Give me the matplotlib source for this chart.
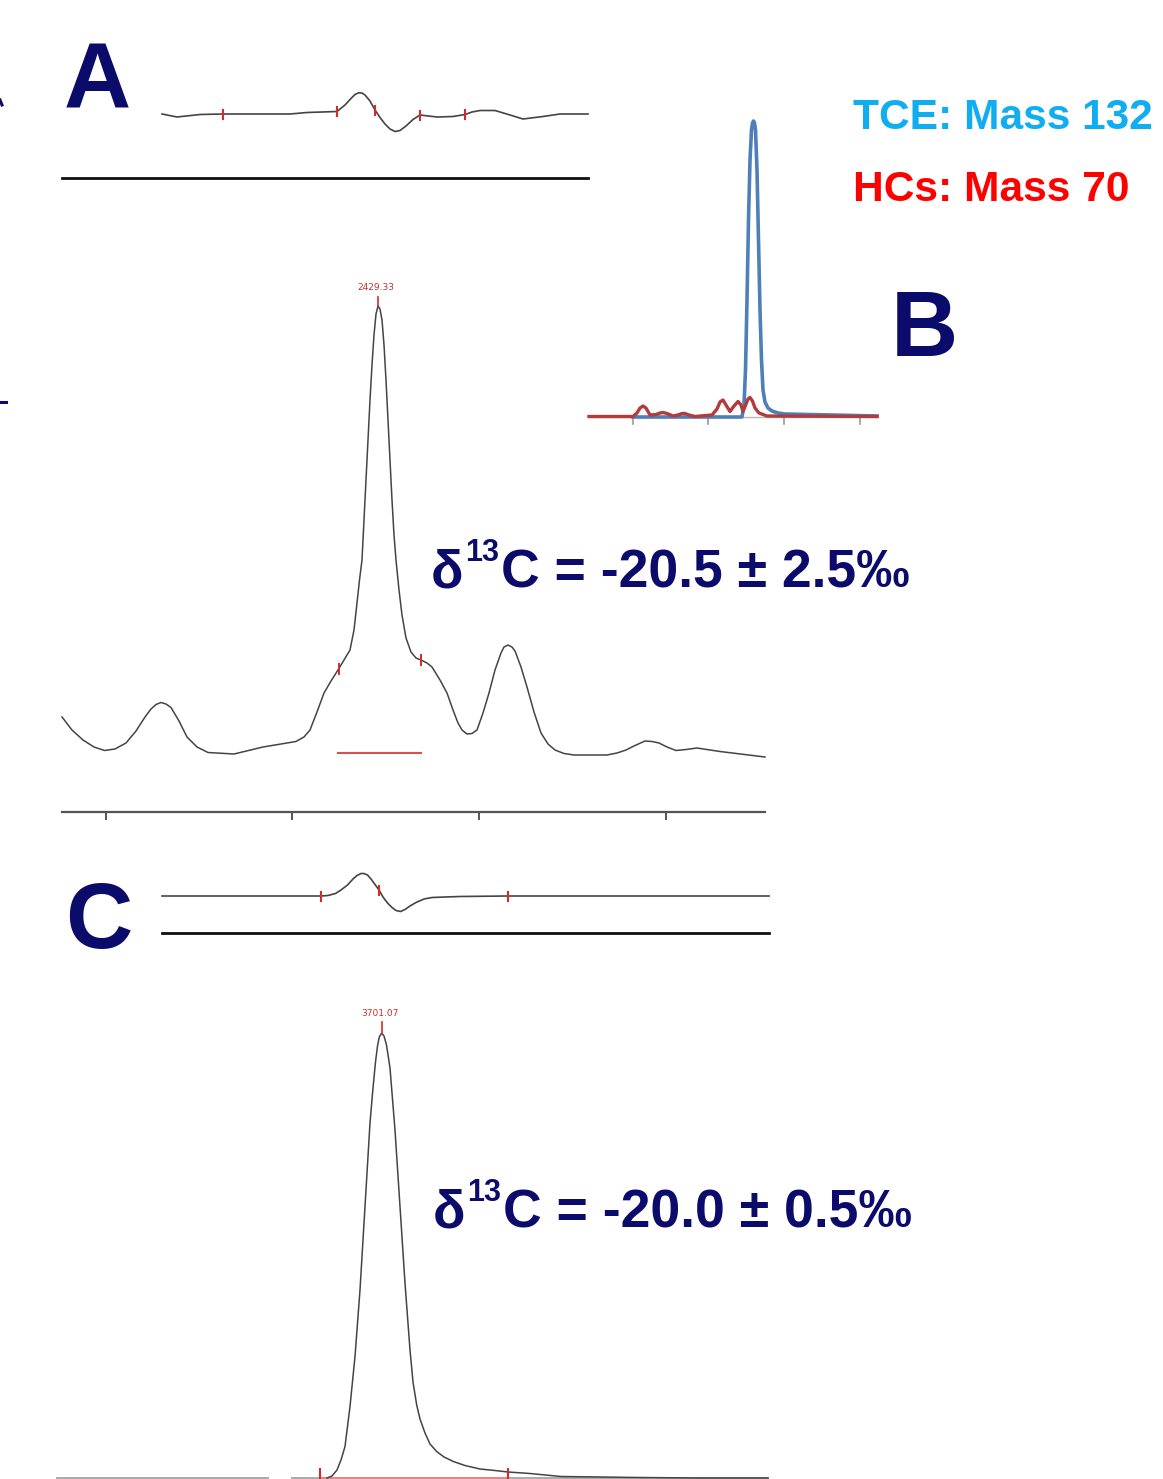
import matplotlib.pyplot as plt
import numpy as np

plt.rcParams['font.family'] = ['Liberation Sans', 'DejaVu Sans']

W, H = 1163, 1479
NAVY = '#0b0b6b'
TRACE = '#444444'
TICKRED = '#d42a2a'

# --- panel A: derivative trace (top) and its reference line
a_top_x = [162, 177, 200, 223, 290, 307, 337, 345, 351, 355, 358.5, 362, 365, 370, 375,
           380, 385, 390, 395, 400, 406, 413, 420, 437, 453, 465, 472, 480, 495, 510,
           523, 543, 560, 588]
a_top_y = [114, 117, 114.5, 114, 114, 112.5, 111.5, 105, 98.5, 94.5, 92.8, 93, 95, 101, 110,
           117.5, 124, 129, 131.5, 130.5, 126, 119.5, 115, 117, 116.5, 114.5, 112, 110.5,
           110.5, 115, 119, 116.5, 114, 114]
a_top_marks = [223, 337, 375, 420, 465]

# --- panel A: main chromatogram
a_x = [62, 72, 83, 94, 104.5, 115, 126, 136, 145, 151, 156, 161, 166, 171, 179, 187, 197,
       208, 234, 263, 296, 304, 310, 317, 324, 331, 338, 344, 350, 354, 357, 359.5, 362,
       364, 366, 368, 370, 372, 374, 376, 378, 380, 382, 384, 386, 388, 390, 392, 394,
       396, 399, 402, 406, 411, 416, 421, 427, 432, 440, 447, 453, 458, 462, 467, 472,
       477, 483, 489, 495, 501, 504, 508, 512, 515, 521, 527, 534, 541, 548, 555, 564,
       574, 607, 617, 626, 635, 645, 652, 659, 667, 676, 686, 697, 720, 765]
a_y = [717, 730, 740, 747, 750.5, 749, 743, 731, 717, 709, 704.5, 702.5, 704, 707.5, 721,
       737, 747, 752.5, 754, 747, 741.5, 737, 730, 712, 693, 681, 670, 660, 650, 630, 603,
       580, 560, 520, 480, 440, 400, 365, 335, 314, 306, 309, 320, 345, 380, 420, 460,
       500, 535, 560, 590, 615, 638, 652, 658, 660, 663, 667, 680, 693, 710, 723, 730,
       734, 733.5, 730, 713, 693, 670, 653, 647, 645, 647, 651, 667, 687, 712, 733, 744,
       750, 753.5, 755, 755, 753, 750, 745.5, 741, 741.5, 743, 747, 750.5, 749.5, 748,
       751.5, 757]
a_marks = [(338.5, 669), (420.5, 660)]
a_axis_ticks = [106, 292, 479, 666]

# --- panel B: inset with two ion traces
b_tce_x = [633, 742, 744, 745.5, 747, 748.5, 750, 751.5, 752.5, 753.5, 754.5, 755.5,
           757, 758.5, 760, 761.5, 763, 765, 768, 772, 778, 785, 877]
b_tce_y = [417, 417, 405, 370, 300, 220, 160, 130, 123, 121, 123, 130, 170, 240,
           310, 360, 390, 402, 408, 411, 413, 414, 416]
b_hc_x = [589, 633, 637, 640, 643, 646, 650, 656, 660, 663, 667, 673, 678, 682, 685,
          689, 695, 712, 717, 720, 723, 726, 730, 734, 738, 741, 743, 746, 748, 750,
          752.5, 755, 759, 767, 877]
b_hc_y = [416.5, 416.5, 413, 408, 406, 408, 415, 414.5, 413, 412.5, 413.5, 416, 415,
          413.5, 413.5, 415, 416.5, 415, 409, 402, 400, 405, 411.5, 406, 401.5, 405,
          411.5, 404, 399, 397.5, 401, 408, 413, 416, 416.5]
b_ticks = [633, 708, 784, 860]

# --- panel C: derivative trace
c_top_x = [162, 321, 328, 335.5, 341, 347.5, 353, 357, 361, 364, 367.5, 371, 375, 379,
           383, 387.5, 392, 396, 400.5, 405, 410, 416, 424, 432, 445, 460, 508, 769]
c_top_y = [896, 896, 895.5, 893.5, 890, 885, 879, 875.5, 873.5, 873.5, 875, 879, 884.5,
           890, 897, 903, 907.5, 910.5, 911.5, 909.5, 906, 902.5, 899, 897.5, 897, 896.5,
           896, 896]
c_top_marks = [321, 379, 508]

# --- panel C: main chromatogram
c_x = [327, 332, 337, 341, 345, 350, 355, 360, 365, 370, 373, 375.5, 377.5, 379.3,
       381.7, 384, 386.5, 388.5, 390, 395, 400, 405, 410, 413, 416.7, 420, 425, 430,
       436.7, 444, 453.3, 465, 480, 495, 508, 530, 561, 600, 638, 700, 768]
c_y = [1478, 1476, 1470, 1460, 1446.5, 1406.5, 1356.5, 1290, 1206.5, 1123, 1088, 1062,
       1046, 1037, 1033, 1036, 1045, 1058, 1068, 1130, 1206.5, 1283, 1350, 1382, 1405,
       1419, 1433, 1444, 1451.5, 1457, 1461.5, 1465.5, 1469, 1470.5, 1472, 1473.5,
       1476.5, 1477, 1477.5, 1478, 1478]
c_marks = [320, 508]

fig = plt.figure(figsize=(W / 100, H / 100), dpi=100)
ax = fig.add_axes([0, 0, 1, 1])
ax.set_xlim(0, W)
ax.set_ylim(H, 0)
ax.axis('off')

# panel A top
ax.plot(a_top_x, a_top_y, color=TRACE, lw=1.2, solid_joinstyle='round')
for mx in a_top_marks:
    yy = np.interp(mx, a_top_x, a_top_y)
    ax.plot([mx, mx], [yy - 4.5, yy + 4.5], color=TICKRED, lw=1.5)
ax.plot([62, 588], [178, 178], color='#111111', lw=2)

# panel A main
ax.plot(a_x, a_y, color=TRACE, lw=1.1, solid_joinstyle='round')
for mx, my in a_marks:
    ax.plot([mx, mx], [my - 5, my + 5], color=TICKRED, lw=1.4)
ax.plot([378, 378], [297, 306], color=TICKRED, lw=1.2)
ax.text(376, 288, '2429.33', color='#c43030', fontsize=6.5, ha='center', va='center',
        family=['DejaVu Sans'])
ax.plot([338, 421], [753, 753], color='#d85050', lw=1.5)
ax.plot([62, 765], [811.5, 811.5], color='#555555', lw=1.6)
for tx in a_axis_ticks:
    ax.plot([tx, tx], [811.5, 819], color='#555555', lw=1.4)

# panel B inset
ax.plot([589, 877], [416.5, 416.5], color='#b8b8b8', lw=1.0)
for tx in b_ticks:
    ax.plot([tx, tx], [417, 424], color='#9a9a9a', lw=1.2)
ax.plot(b_tce_x, b_tce_y, color='#4f7fb8', lw=2.6, solid_joinstyle='round')
ax.plot(b_hc_x, b_hc_y, color='#b23b3b', lw=2.4, solid_joinstyle='round')
ax.text(853, 129, 'TCE: Mass 132', color='#10aef0', fontsize=30.6, fontweight='bold',
        ha='left', va='baseline')
ax.text(853, 201, 'HCs: Mass 70', color='#ff0000', fontsize=30.6, fontweight='bold',
        ha='left', va='baseline')

# panel C top
ax.plot(c_top_x, c_top_y, color=TRACE, lw=1.2, solid_joinstyle='round')
for mx in c_top_marks:
    yy = np.interp(mx, c_top_x, c_top_y)
    ax.plot([mx, mx], [yy - 4.5, yy + 4.5], color=TICKRED, lw=1.5)
ax.plot([162, 769], [933, 933], color='#111111', lw=2)

# panel C main
ax.plot([57, 268], [1478, 1478], color='#aaaaaa', lw=1.4)
ax.plot([292, 768], [1478, 1478], color='#aaaaaa', lw=1.4)
ax.plot([320, 508], [1477.5, 1477.5], color='#f08080', lw=1.2)
ax.plot(c_x, c_y, color=TRACE, lw=1.1, solid_joinstyle='round')
for mx in c_marks:
    ax.plot([mx, mx], [1469, 1479], color=TICKRED, lw=1.5)
ax.plot([381.5, 381.5], [1022, 1033], color=TICKRED, lw=1.2)
ax.text(380, 1014, '3701.07', color='#c43030', fontsize=6.5, ha='center', va='center',
        family=['DejaVu Sans'])

# panel letters
for lab, lx, ly in [('A', 64, 107), ('B', 891, 356), ('C', 65, 948)]:
    ax.text(lx, ly, lab, color=NAVY, fontsize=67, fontweight='bold',
            ha='left', va='baseline')


def delta_label(x0, base, value):
    ax.text(x0, base, '\u03b4', color=NAVY, fontsize=38.5, fontweight='bold',
            ha='left', va='baseline')
    ax.text(x0 + 34, base - 26, '13', color=NAVY, fontsize=22, fontweight='bold',
            ha='left', va='baseline')
    ax.text(x0 + 70, base, 'C = ' + value, color=NAVY, fontsize=38.5, fontweight='bold',
            ha='left', va='baseline')


delta_label(431, 587, '-20.5 \u00b1 2.5\u2030')
delta_label(433, 1227, '-20.0 \u00b1 0.5\u2030')

# cropped glyph fragments at the left edge
ax.plot([0, 6], [402, 402], color=NAVY, lw=2.2)
ax.plot([0, 2], [100, 105], color=NAVY, lw=2.2)

fig.savefig('out.png', dpi=100)
